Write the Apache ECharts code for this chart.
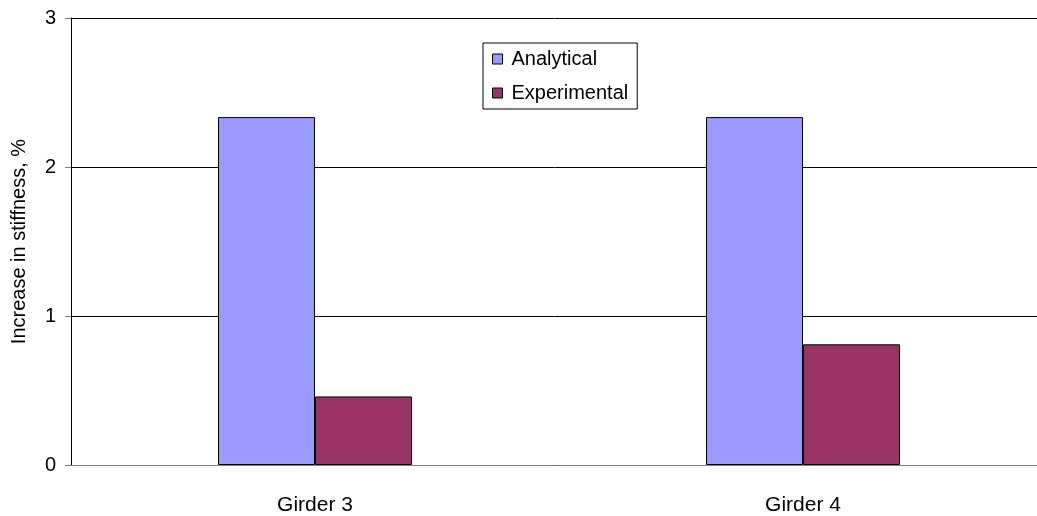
<!DOCTYPE html>
<html>
<head>
<meta charset="utf-8">
<script src="https://cdn.jsdelivr.net/npm/echarts@6/dist/echarts.min.js"></script>
<style>
  html, body { margin: 0; padding: 0; background: #fff; }
  #chart { width: 1037px; height: 516px; }
</style>
</head>
<body>
<div id="chart"></div>
<script>
var categories = ["Girder 3", "Girder 4"];
var analytical = [2.335, 2.335];
var experimental = [0.46, 0.81];

var chart = echarts.init(document.getElementById("chart"));
var font = "Liberation Sans, Arial, sans-serif";
var option = {
  animation: false,
  grid: { left: 71, top: 18, width: 976, height: 447, outerBoundsMode: "none", containLabel: false },
  legend: {
    left: 483,
    top: 43,
    orient: "vertical",
    icon: "rect",
    itemWidth: 10,
    itemHeight: 10,
    itemGap: 14,
    padding: [6, 9, 6, 9],
    borderColor: "#000",
    borderWidth: 1,
    textStyle: { fontFamily: font, fontSize: 20, color: "#000", padding: [0, 0, 0, 4] },
    data: [
      { name: "Analytical", itemStyle: { borderColor: "#000", borderWidth: 1 } },
      { name: "Experimental", itemStyle: { borderColor: "#000", borderWidth: 1 } }
    ]
  },
  xAxis: {
    type: "category",
    data: categories,
    axisTick: { show: false },
    axisLine: { lineStyle: { color: "#808080" } },
    axisLabel: { fontFamily: font, fontSize: 21, color: "#000", margin: 30 }
  },
  yAxis: {
    type: "value",
    min: 0,
    max: 3,
    interval: 1,
    name: "Increase in stiffness, %",
    nameLocation: "middle",
    nameGap: 42,
    nameTextStyle: { fontFamily: font, fontSize: 20, color: "#000" },
    axisLine: { show: true, lineStyle: { color: "#000" } },
    axisTick: { show: true, length: 6, lineStyle: { color: "#808080" } },
    axisLabel: { fontFamily: font, fontSize: 20, color: "#000", margin: 15 },
    splitLine: { lineStyle: { color: "#000", width: 1 } }
  },
  series: [
    {
      name: "Analytical",
      type: "bar",
      data: analytical,
      barWidth: 97,
      barGap: "0%",
      itemStyle: { color: "#9999ff", borderColor: "#000", borderWidth: 1 }
    },
    {
      name: "Experimental",
      type: "bar",
      data: experimental,
      barWidth: 97,
      barGap: "0%",
      itemStyle: { color: "#993366", borderColor: "#000", borderWidth: 1 }
    }
  ]
};
chart.setOption(option);
</script>
</body>
</html>
